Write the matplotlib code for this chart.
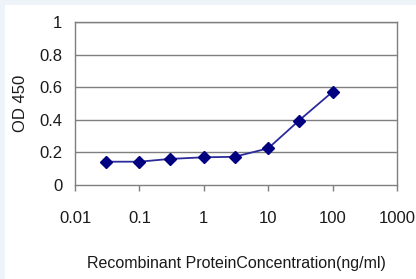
import matplotlib
matplotlib.use("Agg")
import matplotlib.pyplot as plt
from matplotlib.patches import Rectangle
from matplotlib.ticker import FixedLocator, NullLocator

concentration = [0.03, 0.1, 0.3, 1, 3, 10, 30, 100]
od450 = [0.143, 0.143, 0.160, 0.170, 0.173, 0.225, 0.395, 0.572]
x_ticks = [0.01, 0.1, 1, 10, 100, 1000]
x_tick_labels = ["0.01", "0.1", "1", "10", "100", "1000"]
y_ticks = [0, 0.2, 0.4, 0.6, 0.8, 1]
y_tick_labels = ["0", "0.2", "0.4", "0.6", "0.8", "1"]

plt.rcParams['font.family'] = ['Liberation Sans', 'DejaVu Sans']

W, H = 416, 279
fig = plt.figure(figsize=(W / 100, H / 100), dpi=100)
fig.patch.set_facecolor('#edf3f8')
fig.patches.append(Rectangle((5 / W, 0), 1, 1 - 5 / H, transform=fig.transFigure,
                             facecolor='white', edgecolor='none', zorder=-10))

ax = fig.add_axes([75 / W, 94 / H, (397 - 75) / W, (185 - 22) / H])
ax.set_zorder(5)
ax.set_facecolor('white')
ax.set_xscale('log')
ax.set_xlim(0.01, 1000)
ax.set_ylim(0, 1)

ax.xaxis.set_major_locator(FixedLocator(x_ticks))
ax.xaxis.set_minor_locator(NullLocator())
ax.set_xticklabels(x_tick_labels)
ax.set_yticks(y_ticks)
ax.set_yticklabels(y_tick_labels)

for y in y_ticks[1:]:
    ax.axhline(y, color='#7f7f7f', linewidth=1.0, zorder=1)

for s in ax.spines.values():
    s.set_color('#7f7f7f')
    s.set_linewidth(1.0)

ax.tick_params(axis='x', direction='out', length=4, color='#7f7f7f', width=1,
               labelsize=12, pad=15, labelcolor='#1a1a1a')
ax.tick_params(axis='y', length=0, labelsize=12, pad=9, labelcolor='#1a1a1a')

ax.plot(concentration, od450, color='#2b2b9c', linewidth=1.3,
        marker='D', markersize=6.5, markerfacecolor='#000080',
        markeredgecolor='#000080', zorder=3, clip_on=False)

ax.set_xlabel('Recombinant ProteinConcentration(ng/ml)', fontsize=11.5,
              color='#1a1a1a', labelpad=21)
ax.set_ylabel('OD 450', fontsize=12, color='#1a1a1a', labelpad=8)

fig.savefig('out.png', dpi=100, facecolor=fig.get_facecolor())
